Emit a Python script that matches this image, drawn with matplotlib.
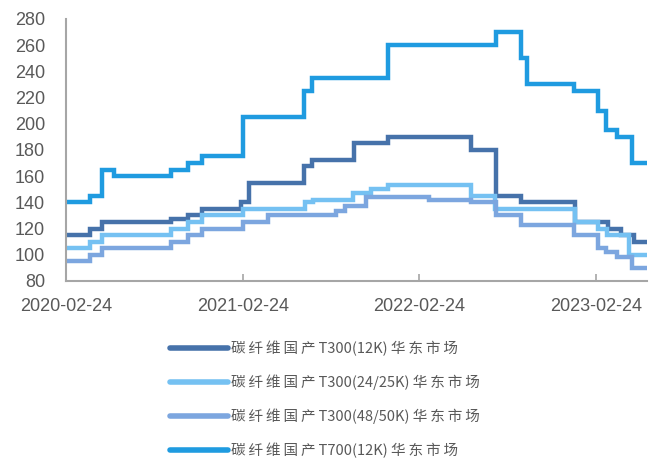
import matplotlib
matplotlib.use('Agg')
import matplotlib.pyplot as plt
import matplotlib.dates as mdates
import pandas as pd

# change dates and prices (step series)
t300_12k_dates = ['2020-02-24', '2020-04-13', '2020-05-08', '2020-09-28', '2020-11-02', '2020-12-01',
                  '2021-02-20', '2021-03-08', '2021-06-30', '2021-07-16', '2021-10-12', '2021-12-20',
                  '2022-06-11', '2022-08-01', '2022-09-22', '2023-01-11', '2023-03-22', '2023-04-16',
                  '2023-05-14', '2023-06-10']
t300_12k_vals = [115, 120, 125, 127, 130, 135, 140, 155, 168, 172, 185, 190,
                 180, 145, 140, 125, 120, 115, 110, 110]

t300_25k_dates = ['2020-02-24', '2020-04-13', '2020-05-08', '2020-09-28', '2020-11-02', '2020-12-01',
                  '2021-02-24', '2021-07-02', '2021-07-18', '2021-10-09', '2021-11-16', '2021-12-20',
                  '2022-06-11', '2022-07-31', '2023-01-11', '2023-02-28', '2023-03-18', '2023-05-03',
                  '2023-06-10']
t300_25k_vals = [105, 110, 115, 120, 125, 130, 135, 140, 142, 147, 150, 153,
                 145, 135, 125, 120, 115, 100, 100]

t300_50k_dates = ['2020-02-24', '2020-04-13', '2020-05-08', '2020-09-28', '2020-11-02', '2020-12-01',
                  '2021-02-24', '2021-04-17', '2021-09-05', '2021-09-22', '2021-11-06', '2022-03-16',
                  '2022-06-11', '2022-08-01', '2022-09-22', '2023-01-09', '2023-02-28', '2023-03-16',
                  '2023-04-08', '2023-05-10', '2023-06-10']
t300_50k_vals = [95, 100, 105, 110, 115, 120, 125, 130, 133, 137, 144, 142,
                 140, 130, 123, 115, 105, 102, 98, 90, 90]

t700_12k_dates = ['2020-02-24', '2020-04-13', '2020-05-08', '2020-06-02', '2020-09-28', '2020-11-02',
                  '2020-12-01', '2021-02-24', '2021-06-30', '2021-07-16', '2021-12-20', '2022-08-01',
                  '2022-09-22', '2022-10-04', '2023-01-09', '2023-02-28', '2023-03-16', '2023-04-08',
                  '2023-05-10', '2023-06-10']
t700_12k_vals = [140, 145, 165, 160, 165, 170, 175, 205, 225, 235, 260, 270,
                 250, 230, 225, 210, 195, 190, 170, 170]

labels = ['碳纤维国产T300(12K)华东市场', '碳纤维国产T300(24/25K)华东市场',
          '碳纤维国产T300(48/50K)华东市场', '碳纤维国产T700(12K)华东市场']
colors = ['#4672AA', '#75C1F2', '#7CA6DF', '#1F9BE0']
series = [(t300_12k_dates, t300_12k_vals), (t300_25k_dates, t300_25k_vals),
          (t300_50k_dates, t300_50k_vals), (t700_12k_dates, t700_12k_vals)]
xticks = ['2020-02-24', '2021-02-24', '2022-02-24', '2023-02-24']


def spaced(s):
    # the original legend has wide letter spacing on the chinese characters
    out = ''
    for ch in s:
        if '\u4e00' <= ch <= '\u9fff':
            out += ch + '\u2009'
        elif ch == ')':
            out += ch + ' '
        else:
            out += ch
    return out.rstrip('\u2009')


plt.rcParams['font.family'] = ['Liberation Sans', 'DejaVu Sans']
text_color = '#595959'

fig = plt.figure(figsize=(6.57, 4.62), dpi=100)
ax = fig.add_axes([0.1005, 0.392, 0.8845, 0.567])

for (d, v), lab, c in zip(series, labels, colors):
    ax.plot(pd.to_datetime(d), v, drawstyle='steps-post', color=c, lw=3.2, label=spaced(lab),
            solid_capstyle='round', solid_joinstyle='miter')

ax.set_ylim(80, 280)
ax.set_yticks(range(80, 281, 20))
ax.set_xlim(pd.Timestamp('2020-02-24'), pd.Timestamp('2023-06-10'))
ax.set_xticks(pd.to_datetime(xticks))
ax.xaxis.set_major_formatter(mdates.DateFormatter('%Y-%m-%d'))

for s in ['top', 'right']:
    ax.spines[s].set_visible(False)
for s in ['left', 'bottom']:
    ax.spines[s].set_color('#A6A6A6')
    ax.spines[s].set_linewidth(1.5)
ax.tick_params(axis='y', length=0, pad=15, labelsize=13, labelcolor=text_color)
ax.tick_params(axis='x', direction='in', length=5, width=1.2, color='#A6A6A6',
               pad=12, labelsize=13, labelcolor=text_color)

leg = fig.legend(loc='upper left', bbox_to_anchor=(0.259, 0.262), frameon=False,
                 prop={'family': ['Noto Sans CJK SC', 'DejaVu Sans'], 'size': 10.5},
                 handlelength=4.0, handletextpad=0.2, labelspacing=1.25, borderpad=0,
                 borderaxespad=0)
for t in leg.get_texts():
    t.set_color(text_color)
for h in leg.get_lines():
    h.set_linewidth(4)

fig.savefig('out.png', dpi=100)
